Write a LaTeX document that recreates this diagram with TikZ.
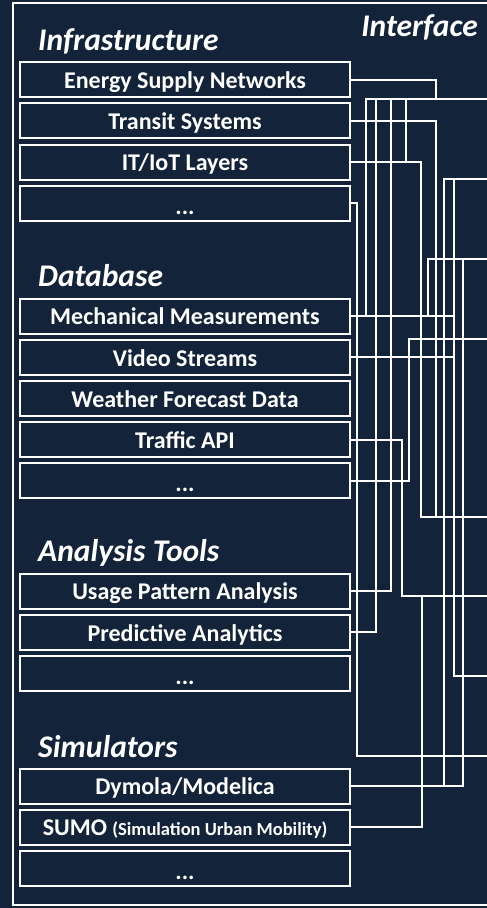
\documentclass[tikz,border=0pt]{standalone}
\usepackage{fontspec}
\setmainfont{Carlito}
\definecolor{navy}{RGB}{18,35,58}
\tikzset{
  panel/.style={draw=white, line width=2pt, minimum width=330pt, minimum height=35pt,
    inner sep=0pt, text=white, font=\bfseries\fontsize{24}{24}\selectfont,
    text height=17.6pt, text depth=0pt},
  dotpanel/.style={panel, text height=22pt},
  grouptitle/.style={text=white, font=\bfseries\itshape\fontsize{31.5}{31.5}\selectfont, inner sep=0pt},
  wire/.style={draw=white, line width=2pt},
  frame/.style={draw=white, line width=2pt}
}
\begin{document}
\begin{tikzpicture}[x=1pt, y=-1pt]
  \fill[navy] (0,0) rectangle (487,908);
  \useasboundingbox (0,0) rectangle (487,908);
  \draw[frame] (487,2.5) -- (13,2.5) -- (13,905) -- (487,905);

  % group titles
  \node[grouptitle, anchor=base west] (tinfra) at (38,50) {Infrastructure};
  \node[grouptitle, anchor=base east] (tiface) at (478,36) {Interface};
  \node[grouptitle, anchor=base west] (tdb) at (38,286) {Database};
  \node[grouptitle, anchor=base west] (ttools) at (38,561) {Analysis Tools};
  \node[grouptitle, anchor=base west] (tsim) at (38,757) {Simulators};

  % infrastructure
  \node[panel] (energy) at (185,79.5) {Energy Supply Networks};
  \node[panel] (transit) at (185,120.8) {Transit Systems};
  \node[panel] (iot) at (185,162.1) {IT/IoT Layers};
  \node[dotpanel] (infmore) at (185,203.4) {...};

  % database
  \node[panel] (mech) at (185,316) {Mechanical Measurements};
  \node[panel] (video) at (185,357.2) {Video Streams};
  \node[panel] (weather) at (185,398.4) {Weather Forecast Data};
  \node[panel] (traffic) at (185,439.6) {Traffic API};
  \node[dotpanel] (dbmore) at (185,480.8) {...};

  % analysis tools
  \node[panel] (usage) at (185,591) {Usage Pattern Analysis};
  \node[panel] (predict) at (185,632.3) {Predictive Analytics};
  \node[dotpanel] (toolmore) at (185,673.6) {...};

  % simulators
  \node[panel] (dymola) at (185,786) {Dymola/Modelica};
  \node[panel] (sumo) at (185,827) {SUMO {\fontsize{18.5}{18.5}\selectfont (Simulation Urban Mobility)}};
  \node[dotpanel] (simmore) at (185,868) {...};

  % vertical routing lanes
  \coordinate (lnA) at (357.3,0);
  \coordinate (lnB) at (365.7,0);
  \coordinate (lnC) at (376,0);
  \coordinate (lnD) at (391,0);
  \coordinate (lnE) at (401.7,0);
  \coordinate (lnF) at (406,0);
  \coordinate (lnG) at (409,0);
  \coordinate (lnH) at (421.3,0);
  \coordinate (lnI) at (422.3,0);
  \coordinate (lnJ) at (428.3,0);
  \coordinate (lnK) at (435.7,0);
  \coordinate (lnL) at (444.3,0);
  \coordinate (lnM) at (454.3,0);
  \coordinate (lnN) at (463.3,0);

  % interface ports
  \coordinate (p1) at (488,99.3);
  \coordinate (p2) at (488,179.3);
  \coordinate (p3) at (488,259);
  \coordinate (p4) at (488,339);
  \coordinate (p5) at (488,516.7);
  \coordinate (p6) at (488,596);
  \coordinate (p7) at (488,676);
  \coordinate (p8) at (488,756);

  % connections
  \draw[wire] (energy.east) -| (lnK |- p1) -- (p1);
  \draw[wire] (transit.east) -| (lnK |- p5) -- (p5);
  \draw[wire] (iot.east) -| (lnF |- p1) -- (p1);
  \draw[wire] (iot.east) -| (lnH |- p5) -- (p5);
  \draw[wire] (infmore.east) -| (lnA |- p8) -- (p8);
  \draw[wire] (mech.east) -| (lnB |- p1) -- (p1);
  \draw[wire] (mech.east) -| (lnJ |- p3) -- (p3);
  \draw[wire] (mech.east) -| (lnM |- p2) -- (p2);
  \draw[wire] (video.east) -| (lnM |- p2) -- (p2);
  \draw[wire] (video.east) -| (lnM |- p7) -- (p7);
  \draw[wire] (traffic.east) -| (lnE |- p6) -- (p6);
  \draw[wire] (dbmore.east) -| (lnG |- p4) -- (p4);
  \draw[wire] (usage.east) -| (lnD |- p1) -- (p1);
  \draw[wire] (predict.east) -| (lnC |- p1) -- (p1);
  \draw[wire] (dymola.east) -| (lnL |- p2) -- (p2);
  \draw[wire] (dymola.east) -| (lnN |- p3) -- (p3);
  \draw[wire] (sumo.east) -| (lnI |- p6) -- (p6);
\end{tikzpicture}
\end{document}
